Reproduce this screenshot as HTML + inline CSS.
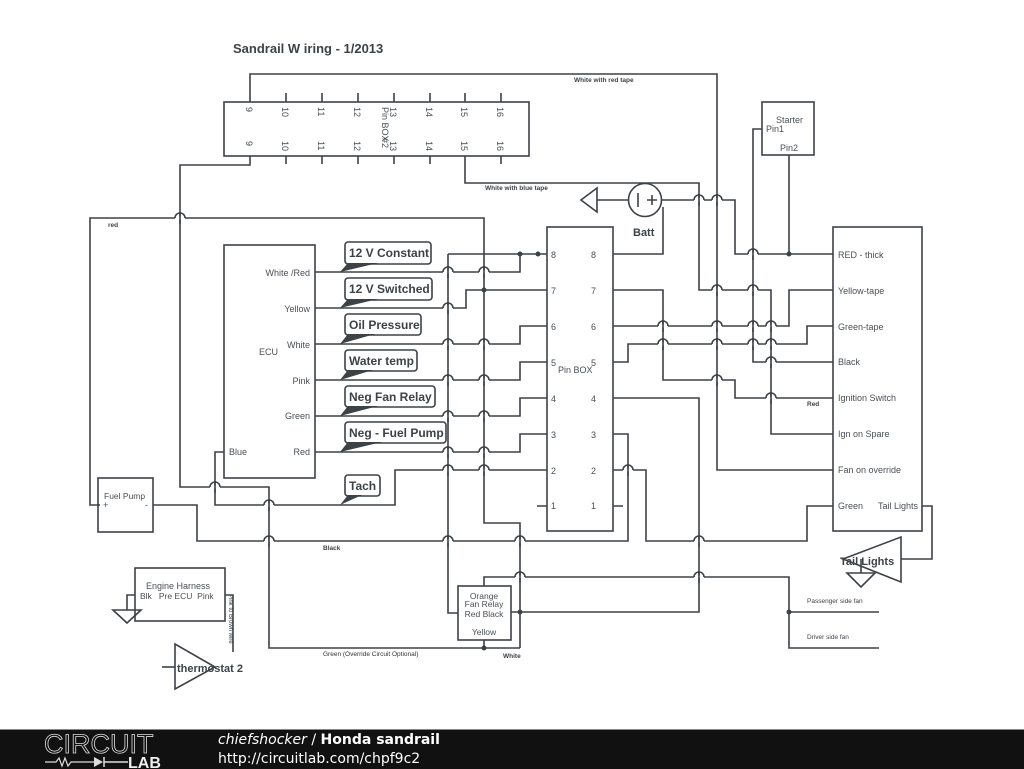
<!DOCTYPE html>
<html><head><meta charset="utf-8"><style>
html,body{margin:0;padding:0;background:#fff;}
body{width:1024px;height:768px;overflow:hidden;position:relative;font-family:"Liberation Sans",sans-serif;}
svg{position:absolute;left:0;top:0;}
.w{fill:none;stroke:#3d4247;stroke-width:1.6;}
.t{font-family:"Liberation Sans",sans-serif;fill:#4a4f54;font-size:9px;}
.s{font-family:"Liberation Sans",sans-serif;fill:#3d4247;font-size:6.5px;font-weight:bold;}
.b{font-family:"Liberation Sans",sans-serif;fill:#3d4247;font-size:12px;font-weight:bold;}
.cb{fill:#fff;stroke:#3d4247;stroke-width:1.6;}
#footer{position:absolute;left:0;top:729px;width:1024px;height:39px;background:#111;border-top:1px solid #888;}
</style></head><body>
<svg id="sv" width="1024" height="768" viewBox="0 0 1024 768">
<text x="233" y="53" style="font-family:'Liberation Sans',sans-serif;font-size:13px;font-weight:bold;fill:#3d4247">Sandrail W iring - 1/2013</text>

<rect x="224" y="102" width="305" height="54" class="w"/>
<g class="w">
<path d="M286,93V102M322,93V102M358,93V102M394,93V102M430,93V102M465,93V102M501,93V102"/>
<path d="M286,156V164M322,156V164M358,156V164M394,156V164M430,156V164M501,156V164"/>
</g>
<g class="t" font-size="9">
<text transform="translate(246,107) rotate(90)">9</text>
<text transform="translate(282,107) rotate(90)">10</text>
<text transform="translate(318,107) rotate(90)">11</text>
<text transform="translate(354,107) rotate(90)">12</text>
<text transform="translate(390,107) rotate(90)">13</text>
<text transform="translate(382,107) rotate(90)">Pin BOX</text>
<text transform="translate(426,107) rotate(90)">14</text>
<text transform="translate(461,107) rotate(90)">15</text>
<text transform="translate(497,107) rotate(90)">16</text>
<text transform="translate(246,141) rotate(90)">9</text>
<text transform="translate(282,141) rotate(90)">10</text>
<text transform="translate(318,141) rotate(90)">11</text>
<text transform="translate(354,141) rotate(90)">12</text>
<text transform="translate(382,138) rotate(90)">#2</text>
<text transform="translate(390,141) rotate(90)">13</text>
<text transform="translate(426,141) rotate(90)">14</text>
<text transform="translate(461,141) rotate(90)">15</text>
<text transform="translate(497,141) rotate(90)">16</text>
</g>
<text x="574" y="82" class="s">White with red tape</text>
<text x="485" y="190" class="s">White with blue tape</text>

<g class="w" id="wires">
<path d="M250,102V74H717V470H833"/>
<path d="M250,156V165H180V487H269V648H520"/>
<path d="M465,156V183H699V290H771V434H833"/>
<path d="M629,200H597"/>
<path d="M597,188L581,200L597,212Z"/>
<path d="M661,200H735V254H833"/>
<path d="M613,254H663V207"/>
<path d="M762,129H753V362H833"/>
<path d="M789,155V254"/>
<path d="M613,290H663V380H735V398H833"/>
<path d="M613,326H789V290H833"/>
<path d="M613,362H628V344H807V326H833"/>
<path d="M613,398H699V612H511"/>
<path d="M613,434H628V541H197V505H153"/>
<path d="M613,470H646V541H807V506H833"/>
<path d="M537,506H547M613,506H623"/>
<path d="M922,506H932V559H901"/>
<path d="M901,537V582L843,559Z"/>
<path d="M861,559V573M847,573H875L861,587Z"/>
<path d="M100,505H90V218H484V523H520V648"/>
<path d="M448,254H547"/>
<path d="M448,254V613H458"/>
<path d="M315,272H520V254"/>
<path d="M315,308H466V290H547"/>
<path d="M315,344H520V326H547"/>
<path d="M315,380H520V362H547"/>
<path d="M315,416H520V398H547"/>
<path d="M315,452H520V434H547"/>
<path d="M547,470H395V505H215V452H224"/>
<path d="M484,586V577H789V648H879M789,612H879"/>
<path d="M484,640V648"/>
<path d="M135,595H127V610M113,610H141L127,623Z"/>
<path d="M225,595H233V652"/>
<path d="M175,644V689L215,667Z"/>
<path d="M162,667H175"/>
</g>

<g id="hops" class="w"></g>

<g fill="#3d4247">
<circle cx="520" cy="254" r="2.5"/><circle cx="538" cy="254" r="2.5"/>
<circle cx="484" cy="290" r="2.5"/><circle cx="789" cy="254" r="2.5"/>
<circle cx="520" cy="612" r="2.5"/><circle cx="484" cy="648" r="2.5"/>
<circle cx="789" cy="612" r="2.5"/>
</g>

<circle cx="645" cy="200" r="16.5" fill="#fff" stroke="#3d4247" stroke-width="1.6"/>
<path d="M638,193V207M647,200H657M652,195V205" class="w" stroke-width="1.2"/>
<text x="633" y="236" class="b" style="font-size:11px">Batt</text>

<rect x="762" y="102" width="52" height="53" class="w"/>
<text x="776" y="123" class="t">Starter</text>
<text x="766" y="132" class="t">Pin1</text>
<text x="780" y="151" class="t">Pin2</text>

<rect x="833" y="227" width="89" height="304" class="w"/>
<g class="t">
<text x="838" y="258">RED - thick</text>
<text x="838" y="294">Yellow-tape</text>
<text x="838" y="330">Green-tape</text>
<text x="838" y="365">Black</text>
<text x="838" y="401">Ignition Switch</text>
<text x="838" y="437">Ign on Spare</text>
<text x="838" y="473">Fan on override</text>
<text x="838" y="509">Green</text>
<text x="878" y="509">Tail Lights</text>
</g>
<text x="807" y="406" class="s">Red</text>
<text x="840" y="565" class="b" style="font-size:11px">Tail Lights</text>

<rect x="547" y="227" width="66" height="304" class="w"/>
<g class="t">
<text x="551" y="258">8</text><text x="591" y="258">8</text>
<text x="551" y="294">7</text><text x="591" y="294">7</text>
<text x="551" y="330">6</text><text x="591" y="330">6</text>
<text x="551" y="366">5</text><text x="591" y="366">5</text>
<text x="551" y="402">4</text><text x="591" y="402">4</text>
<text x="551" y="438">3</text><text x="591" y="438">3</text>
<text x="551" y="474">2</text><text x="591" y="474">2</text>
<text x="551" y="509">1</text><text x="591" y="509">1</text>
<text x="558" y="373">Pin BOX</text>
</g>

<rect x="224" y="245" width="91" height="233" class="w"/>
<g class="t" text-anchor="end">
<text x="310" y="276">White /Red</text>
<text x="310" y="312">Yellow</text>
<text x="310" y="348">White</text>
<text x="310" y="384">Pink</text>
<text x="310" y="419">Green</text>
<text x="310" y="455">Red</text>
</g>
<text x="259" y="355" class="t">ECU</text>
<text x="229" y="455" class="t">Blue</text>

<g>
<rect x="345" y="242" width="86" height="22" rx="3" class="cb"/><polygon points="340,272 348,263 378,263" fill="#3d4247"/><text x="349" y="257" class="b">12 V Constant</text>
<rect x="345" y="278" width="87" height="22" rx="3" class="cb"/><polygon points="340,308 348,299 378,299" fill="#3d4247"/><text x="349" y="293" class="b">12 V Switched</text>
<rect x="345" y="314" width="76" height="21" rx="3" class="cb"/><polygon points="340,344 348,334 375,334" fill="#3d4247"/><text x="349" y="329" class="b">Oil Pressure</text>
<rect x="345" y="350" width="72" height="21" rx="3" class="cb"/><polygon points="340,380 348,370 373,370" fill="#3d4247"/><text x="349" y="365" class="b">Water temp</text>
<rect x="345" y="386" width="90" height="21" rx="3" class="cb"/><polygon points="340,416 348,406 378,406" fill="#3d4247"/><text x="349" y="401" class="b">Neg Fan Relay</text>
<rect x="345" y="422" width="101" height="21" rx="3" class="cb"/><polygon points="340,452 348,442 382,442" fill="#3d4247"/><text x="349" y="437" class="b">Neg - Fuel Pump</text>
<rect x="345" y="475" width="35" height="21" rx="3" class="cb"/><polygon points="340,505 348,495 362,495" fill="#3d4247"/><text x="349" y="490" class="b">Tach</text>
</g>

<rect x="98" y="478" width="55" height="54" class="w"/>
<text x="104" y="499" class="t" style="font-size:8.5px">Fuel Pump</text>
<text x="103" y="508" class="t">+</text><text x="145" y="508" class="t">-</text>
<text x="108" y="227" class="s">red</text>
<text x="323" y="550" class="s">Black</text>
<text x="323" y="656" class="s" style="font-weight:normal;fill:#333">Green (Override Circuit Optional)</text>
<text x="503" y="658" class="s">White</text>

<rect x="458" y="586" width="53" height="54" class="w" fill="#fff"/>
<g class="t" style="font-size:8.5px" text-anchor="middle">
<text x="484" y="599">Orange</text>
<text x="484" y="607">Fan Relay</text>
<text x="484" y="617">Red Black</text>
<text x="484" y="635">Yellow</text>
</g>
<text x="807" y="603" class="s" style="font-weight:normal">Passenger side fan</text>
<text x="807" y="639" class="s" style="font-weight:normal">Driver side fan</text>

<rect x="135" y="568" width="90" height="53" class="w"/>
<text x="146" y="589" class="t">Engine Harness</text>
<text x="140" y="599" class="t" style="font-size:8.5px">Blk&#160;&#160;&#160;Pre ECU&#160;&#160;Pink</text>
<text transform="translate(229,594) rotate(90)" class="s" style="font-weight:normal;font-size:6px">Pink to Brown wire</text>
<text x="177" y="672" class="b" style="font-size:11px">thermostat 2</text>
</svg>

<div id="footer">
<svg width="200" height="39" style="position:absolute;left:0;top:0">
<text x="44" y="23" style="font-family:'Liberation Sans',sans-serif;font-size:27px;fill:none;stroke:#ddd;stroke-width:0.8;letter-spacing:0px">CIRCUIT</text>
<path d="M45,32H56L59,28L62,36L65,28L68,36L71,32H94" fill="none" stroke="#ddd" stroke-width="1.2"/>
<path d="M94,27V37L103,32Z" fill="#ddd"/><path d="M104,27V37M104,32H128" stroke="#ddd" stroke-width="1.5"/>
<text x="128" y="38" style="font-family:'Liberation Sans',sans-serif;font-size:16px;font-weight:bold;fill:#eee">LAB</text>
</svg>
<div style="position:absolute;left:218px;top:1px;color:#fff;font-family:'DejaVu Sans',sans-serif;font-size:14px;line-height:19px"><i>chiefshocker</i> / <b>Honda sandrail</b><br>http://circuitlab.com/chpf9c2</div>
</div>

<script>
(function(){
var hops=[
[699,200],[717,200],[753,254],
[717,290],[753,290],
[663,326],[717,326],[753,326],[771,326],
[663,344],[717,344],[753,344],[771,344],
[771,362],[717,380],[771,398],
[628,470],[699,541],
[180,218],
[448,272],[484,272],[448,308],[448,344],[484,344],[448,380],[484,380],[448,416],[484,416],[448,452],[484,452],
[448,470],[484,470],
[215,487],[269,505],
[269,541],[448,541],[520,541],
[520,577],[699,577]
];
var g=document.getElementById('hops');var ns='http://www.w3.org/2000/svg';
hops.forEach(function(h){
var x=h[0],y=h[1];
var l=document.createElementNS(ns,'path');
l.setAttribute('d','M'+(x-5)+','+y+'H'+(x+5));
l.setAttribute('style','stroke:#fff;stroke-width:3;fill:none');
g.appendChild(l);
var v=document.createElementNS(ns,'path');
v.setAttribute('d','M'+x+','+(y-6)+'V'+(y+6));
v.setAttribute('class','w');
g.appendChild(v);
var a=document.createElementNS(ns,'path');
a.setAttribute('d','M'+(x-5)+','+y+'A5,5 0 0,1 '+(x+5)+','+y);
a.setAttribute('class','w');
g.appendChild(a);
});
})();
</script>
</body></html>
